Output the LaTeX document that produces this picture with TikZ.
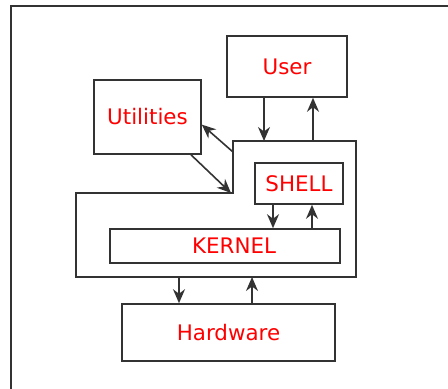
\documentclass[tikz,border=0pt]{standalone}
\usepackage{fontspec}
\setmainfont{DejaVu Sans}
\usetikzlibrary{arrows.meta}
\tikzset{
  box/.style={draw=black!80, line width=0.8pt, text=red, inner sep=0pt,
    font=\fontsize{10.7}{12}\selectfont},
  arr/.style={-{Stealth[length=7pt,width=6pt]}, draw=black!80, line width=0.8pt},
  wall/.style={draw=black!80, line width=0.8pt},
}
\begin{document}
\begin{tikzpicture}[x=0.5pt,y=-0.5pt]
    \useasboundingbox (0,0) rectangle (448,389);
    % frame
    \draw[wall] (11,389) -- (11,6) -- (448,6);

    \node[box, minimum width=60pt, minimum height=30.5pt] (user) at (287,66.5) {User};
    \node[box, minimum width=53.5pt, minimum height=37pt] (util) at (147.5,117) {Utilities};
    \node[box, minimum width=44pt, minimum height=20.5pt] (shell) at (299,183.5) {SHELL};
    \node[box, minimum width=115pt, minimum height=17pt] (kernel) at (225,246) {\hspace{9pt}KERNEL};
    \node[box, minimum width=106.5pt, minimum height=28.5pt] (hw) at (228.5,332.5) {Hardware};

    % outline round shell and kernel
    \draw[wall] (233,141) -- (356,141) -- (356,277) -- (76,277) -- (76,193) -- (233,193) -- cycle;
    \coordinate (u1) at (264,141);
    \coordinate (u2) at (313,141);
    \coordinate (o1) at (233,152);
    \coordinate (o2) at (231,193);
    \coordinate (h1) at (179,277);
    \coordinate (h2) at (252,277);

    \draw[arr] (user.south -| u1) -- (u1);
    \draw[arr] (u2) -- (user.south -| u2);
    \draw[arr] (o1) -- (util.-8.5);
    \draw[arr] (util.-41) -- (o2);
    \draw[arr] ([xshift=-13pt]shell.south) -- ([xshift=-13pt]shell.south |- kernel.north);
    \draw[arr] ([xshift=6.5pt]shell.south |- kernel.north) -- ([xshift=6.5pt]shell.south);
    \draw[arr] (h1) -- (hw.north -| h1);
    \draw[arr] (hw.north -| h2) -- (h2);
\end{tikzpicture}
\end{document}
